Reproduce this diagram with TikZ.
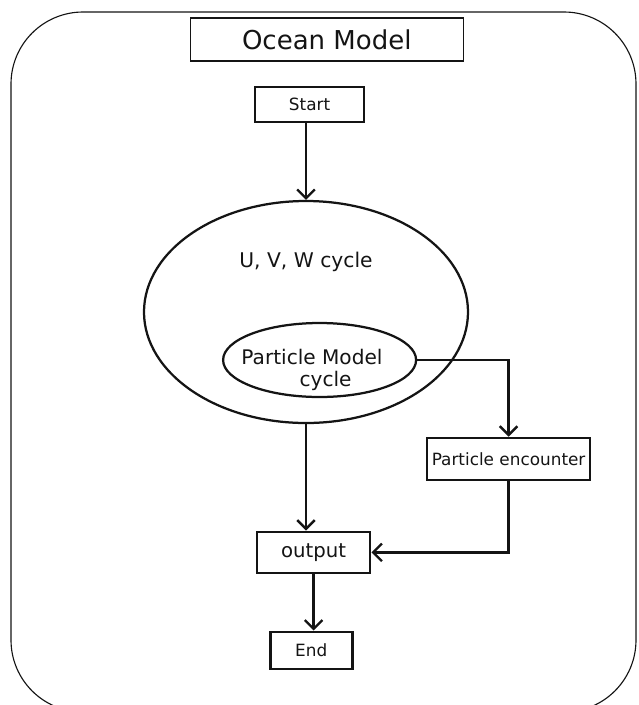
\documentclass[tikz,border=0pt]{standalone}
\usepackage{fontspec}
\setmainfont{DejaVu Sans}
\usetikzlibrary{shapes,positioning,arrows.meta}
\colorlet{ink}{black!92}
\tikzstyle{box}=[draw=ink,rectangle,line width=1.9pt,inner sep=0pt,text=ink]
\tikzstyle{titlebox}=[box,line width=.9pt]
\tikzstyle{cyc}=[draw=ink,ellipse,line width=1.6pt,inner sep=0pt]
\tikzstyle{label}=[text=ink,inner sep=0pt]
\tikzstyle{link}=[draw=ink,line width=1.7pt]

\begin{document}
\begin{tikzpicture}[>={Straight Barb[length=2.2mm,width=4.4mm]}, on grid]
  \useasboundingbox (0,0) rectangle (15.95,-17.625);
  \draw[ink,line width=.8pt,rounded corners=1.8cm] (.275,-.3) rectangle (15.9,-17.8);

  \node[box,minimum width=2.725cm,minimum height=.875cm,font=\fontsize{12}{14}\selectfont]
    (start) at (7.74,-2.61) {Start};
  \node[titlebox,above=1.625cm of start,xshift=.43cm,minimum width=6.825cm,minimum height=1.075cm,
    font=\fontsize{18.5}{22}\selectfont] (title) {Ocean Model};

  \node[cyc,below=5.19cm of start,xshift=-.09cm,minimum width=8.1cm,minimum height=5.55cm] (uvw) {};
  \node[label,above=1.25cm of uvw,font=\fontsize{14.4}{17}\selectfont] (uvwtext) {U, V, W cycle};

  \node[cyc,below=1.2cm of uvw,xshift=.34cm,minimum width=4.825cm,minimum height=1.85cm] (pm) {};
  \node[label,above=.075cm of pm,xshift=-.19cm,font=\fontsize{14.3}{17}\selectfont] (pmtext) {Particle Model};
  \node[label,below=.525cm of pm,xshift=.15cm,font=\fontsize{14.3}{17}\selectfont] (pmcycle) {cycle};

  \node[box,below right=2.475cm and 4.725cm of pm,minimum width=4.075cm,minimum height=1.05cm,
    font=\fontsize{12}{14}\selectfont] (pe) {Particle encounter};
  \node[box,below=6.01cm of uvw,xshift=.19cm,minimum width=2.825cm,minimum height=1.025cm,
    font=\fontsize{14}{17}\selectfont] (out) {output};
  \node[box,below=2.45cm of out,xshift=-.06cm,minimum width=2.05cm,minimum height=.925cm,
    font=\fontsize{12}{14}\selectfont] (end) {End};

  \draw[link,->] (start.south -| uvw.north) -- (uvw.north);
  \draw[link,->] (uvw.south) -- (uvw.south |- out.north);
  \draw[link,->] (pm.east) -| (pe.north);
  \draw[link,->] (pe.south) |- (out.east);
  \draw[link,->] (out.south) -- (out.south |- end.north);
\end{tikzpicture}
\end{document}
